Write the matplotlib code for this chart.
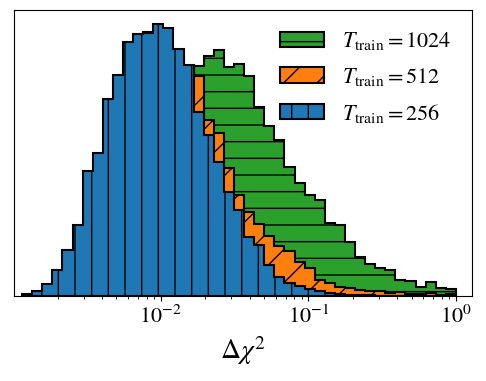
import matplotlib
matplotlib.use("Agg")
import matplotlib.pyplot as plt
import numpy as np

plt.rcParams['font.family'] = ['STIXGeneral', 'DejaVu Serif']
plt.rcParams['mathtext.fontset'] = 'stix'

# log10 bin edges (43 bins)
log_lo, log_hi, n_bins = -2.94, 0.0, 43

# counts per bin (arbitrary units)
counts_1024 = [0, 0, 0, 1, 2, 4, 8, 14, 25, 40, 60, 85, 110, 140, 170, 195, 215,
               231, 241, 247, 230, 233, 220, 189, 170, 156, 129, 113, 101, 96,
               73, 71, 54, 39, 32, 28, 26, 16, 15, 9, 14, 8, 7]
counts_512 = [0, 1, 3, 8, 15, 25, 45, 62, 95, 120, 160, 200, 265, 255, 250, 240, 228,
              220, 176, 163, 128, 101, 84, 72, 60, 50, 45, 34, 28, 16,
              13, 9, 8, 6, 5, 5, 3, 4, 2, 2, 3, 1, 2]
counts_256 = [1.7, 5, 12, 26, 46, 71, 125, 143, 197, 221, 255, 263, 264, 273, 269, 248, 232,
              184, 161, 134, 104, 86, 59, 51, 31, 19, 13, 10, 7, 5,
              3, 2, 1.5, 1, 1, 0.5, 0.5, 0, 0, 0, 0, 0, 0]

labels = [r'$T_{\rm train}=1024$', r'$T_{\rm train}=512$', r'$T_{\rm train}=256$']
colors = ['#2ca02c', '#ff7f0e', '#1f77b4']
hatches = ['-', '/', '|']

edges = np.logspace(log_lo, log_hi, n_bins + 1)
centers = np.sqrt(edges[:-1] * edges[1:])

fig = plt.figure(figsize=(4.86, 3.81), dpi=100)
ax = fig.add_axes([0.0288, 0.2231, 0.9418, 0.7507])

for c, col, h, lab in zip([counts_1024, counts_512, counts_256], colors, hatches, labels):
    ax.hist(centers, bins=edges, weights=c, histtype='stepfilled',
            facecolor=col, edgecolor='k', hatch=h, lw=1.5, label=lab)

ax.set_xscale('log')
ax.set_xlim(10 ** -2.995, 10 ** 0.107)
ax.set_yticks([])
ax.tick_params(axis='x', labelsize=16)
ax.set_xlabel(r'$\Delta\chi^2$', fontsize=20)

ax.legend(loc='upper right', frameon=False, fontsize=16,
          handlelength=2.0, handleheight=0.68, handletextpad=0.8, labelspacing=0.62)

fig.savefig('out.png', dpi=100)
